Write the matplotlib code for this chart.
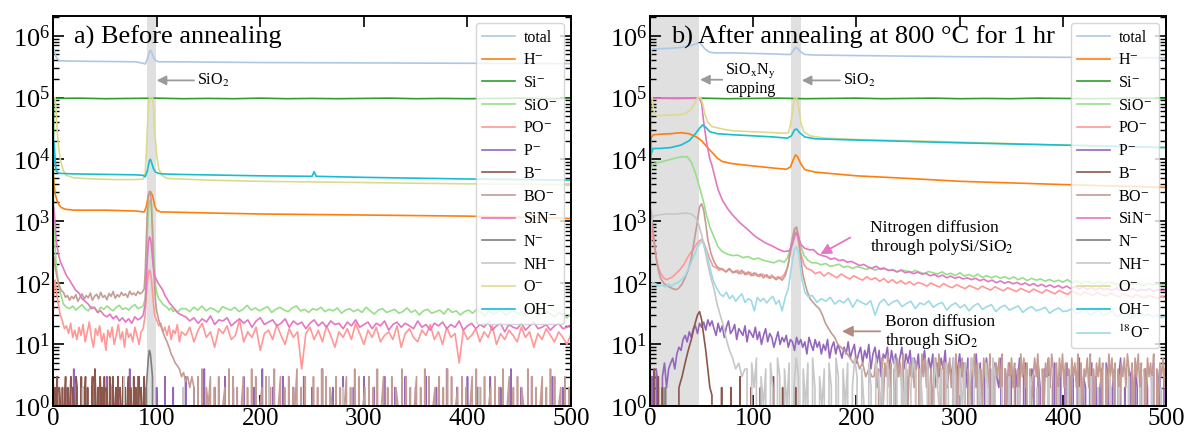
import numpy as np
import matplotlib
matplotlib.use("Agg")
import matplotlib.pyplot as plt
from matplotlib.ticker import LogLocator, NullFormatter

plt.rcParams['font.family'] = ['Liberation Serif', 'DejaVu Serif']
plt.rcParams['mathtext.fontset'] = 'stix'

# ---------------- labels / colours ----------------
LABELS = ['total', 'H$^{-}$', 'Si$^{-}$', 'SiO$^{-}$', 'PO$^{-}$', 'P$^{-}$', 'B$^{-}$',
          'BO$^{-}$', 'SiN$^{-}$', 'N$^{-}$', 'NH$^{-}$', 'O$^{-}$', 'OH$^{-}$', '$^{18}$O$^{-}$']
COLORS = ['#aec7e8', '#ff7f0e', '#2ca02c', '#98df8a', '#ff9896', '#9467bd', '#8c564b',
          '#c49c94', '#e377c2', '#7f7f7f', '#c7c7c7', '#dbdb8d', '#17becf', '#9edae5']
X_TICKS = [0, 100, 200, 300, 400, 500]

# ================= panel a (before annealing) =================
A_TOTAL = [(0, 7e5), (1, 6e5), (3, 4.5e5), (6, 3.95e5), (20, 3.9e5), (50, 3.85e5), (80, 3.8e5),
           (87, 3.6e5), (89, 3.5e5), (91, 4.2e5), (93, 5.5e5), (94, 5.8e5), (95, 5.5e5), (97, 4.5e5),
           (99, 4.0e5), (102, 3.8e5), (120, 3.8e5), (200, 3.7e5), (300, 3.65e5), (400, 3.6e5), (500, 3.55e5)]
A_SI = [(0, 1), (0.5, 9.7e4), (25, 9.8e4), (50, 9.6e4), (75, 9.7e4), (100, 9.8e4), (125, 9.6e4),
        (150, 9.7e4), (175, 9.6e4), (200, 9.8e4), (225, 9.6e4), (250, 9.7e4), (275, 9.6e4),
        (300, 9.7e4), (325, 9.8e4), (350, 9.6e4), (375, 9.7e4), (400, 9.6e4), (425, 9.7e4),
        (450, 9.8e4), (475, 9.6e4), (500, 9.7e4)]
A_O = [(0, 1e5), (1, 1e5), (2, 1e5), (3, 6e4), (4, 3e4), (5, 1.8e4), (7, 1e4), (10, 6.5e3),
       (13, 5.5e3), (20, 5.0e3), (40, 4.8e3), (60, 4.7e3), (80, 4.7e3), (87, 4.8e3), (89, 6e3),
       (90, 1.2e4), (91, 3e4), (92, 7e4), (93, 1e5), (94, 1e5), (95, 1e5), (96, 1e5), (97, 7e4),
       (98, 3e4), (100, 1.2e4), (102, 7e3), (105, 5.5e3), (110, 4.9e3), (150, 4.6e3), (200, 4.4e3),
       (300, 4.2e3), (400, 4.0e3), (500, 3.9e3)]
A_OH = [(0, 5e3), (1, 1.9e4), (2, 1e4), (3, 6.5e3), (5, 6e3), (8, 5.9e3), (20, 5.8e3), (50, 5.7e3),
        (80, 5.6e3), (87, 5.5e3), (89, 5.2e3), (91, 6.5e3), (93, 9.5e3), (94, 1e4), (95, 9e3),
        (97, 7e3), (99, 6.2e3), (102, 5.9e3), (106, 5.8e3), (120, 5.7e3), (200, 5.4e3), (250, 5.3e3),
        (252, 6.3e3), (254, 5.3e3), (300, 5.1e3), (400, 4.8e3), (500, 4.6e3)]
A_H = [(0, 6e3), (1, 4e3), (2, 2.8e3), (4, 2.1e3), (6, 1.8e3), (8, 1.65e3), (12, 1.55e3), (20, 1.5e3),
       (50, 1.5e3), (80, 1.45e3), (88, 1.4e3), (90, 1.7e3), (92, 2.6e3), (94, 3.0e3), (96, 2.6e3),
       (98, 1.8e3), (100, 1.5e3), (104, 1.4e3), (110, 1.4e3), (150, 1.35e3), (200, 1.3e3),
       (300, 1.25e3), (400, 1.2e3), (500, 1.1e3)]
A_SIO_HEAD = [(0, 1e3), (1, 800), (2, 400), (3, 200), (5, 100), (7, 70), (10, 45), (13, 40), (16, 38),
              (19, 42), (22, 36), (25, 40), (28, 44), (31, 38), (34, 35), (37, 41), (40, 39), (43, 33),
              (46, 40), (49, 37), (52, 42), (55, 38), (58, 35), (61, 40), (64, 43), (67, 37), (70, 39),
              (73, 36), (76, 41), (79, 44), (82, 38), (85, 40), (87, 42), (89, 55), (90, 150), (91, 600),
              (92, 1500), (93, 2000), (94, 2200), (95, 1800), (96, 900), (97, 350), (98, 150), (99, 90),
              (100, 70), (102, 55), (104, 50), (106, 45), (108, 42), (110, 40), (112, 36), (114, 39),
              (116, 34), (118, 37), (120, 33), (122, 36), (124, 38)]
A_SIO_TAIL = [38, 34, 40, 36, 42, 35, 39, 37, 33, 41, 38, 36, 40, 34, 37, 43, 36, 39, 35, 38, 41, 33,
              37, 40, 36, 34, 39, 42, 35, 37, 33, 38, 36, 40, 34, 37, 35, 39, 32, 36, 38, 34, 37, 33,
              40, 35, 31, 36, 38, 33, 35, 37, 32, 34, 39, 33, 36, 30, 35, 37, 32, 34, 36, 31, 38, 33,
              35, 30, 34, 36, 32, 37, 33, 29, 35, 31, 34, 36, 30, 33, 35, 31, 34, 29, 33, 36, 30, 32,
              35, 31, 28, 33, 30, 27, 31]
A_SIN_HEAD = [(0, 2000), (1, 1500), (2, 900), (3, 500), (5, 300), (7, 220), (10, 170), (13, 130),
              (16, 110), (19, 90), (22, 75), (25, 68), (28, 55), (31, 50), (34, 45), (37, 38), (40, 40),
              (43, 33), (46, 35), (49, 30), (52, 28), (55, 31), (58, 26), (61, 29), (64, 24), (67, 27),
              (70, 23), (73, 26), (76, 22), (79, 28), (82, 25), (85, 27), (87, 30), (89, 45), (90, 100),
              (91, 250), (92, 450), (93, 550), (94, 520), (95, 400), (96, 250), (97, 170), (98, 130),
              (100, 110), (102, 95), (104, 85), (106, 75), (108, 62), (110, 55), (112, 48), (115, 42),
              (118, 36), (121, 32), (124, 30)]
A_SIN_TAIL = [28, 24, 27, 22, 26, 23, 29, 21, 25, 24, 27, 20, 23, 26, 22, 25, 19, 24, 27, 21, 23, 25,
              20, 22, 26, 19, 24, 21, 23, 18, 22, 25, 20, 23, 19, 24, 21, 22, 18, 23, 20, 25, 19, 21,
              23, 18, 22, 20, 24, 17, 21, 23, 19, 22, 20, 18, 24, 19, 21, 17, 22, 20, 23, 18, 21, 19,
              24, 17, 20, 22, 18, 21, 19, 23, 17, 20, 22, 16, 21, 19, 18, 22, 17, 20, 23, 18, 19, 21,
              17, 20, 22, 18, 19, 21]
A_PO_HEAD = [(0, 30), (1, 100), (2, 110), (3, 80), (5, 45), (7, 30), (9, 24), (11, 18), (13, 20),
             (15, 15), (17, 22), (19, 13), (21, 17), (23, 12), (25, 19), (27, 14), (29, 21), (31, 11),
             (33, 16), (35, 23), (37, 13), (39, 9), (41, 18), (43, 14), (45, 20), (47, 11), (49, 15),
             (51, 8), (53, 17), (55, 13), (57, 19), (59, 10), (61, 14), (63, 21), (65, 12), (67, 16),
             (69, 9), (71, 18), (73, 13), (75, 15), (77, 11), (79, 19), (81, 14), (83, 10), (85, 16),
             (87, 18), (89, 30), (90, 60), (91, 100), (92, 140), (93, 160), (94, 150), (95, 110),
             (96, 70), (97, 45), (98, 30), (100, 25), (102, 20), (104, 22), (106, 16), (108, 19),
             (110, 14), (112, 20), (114, 12), (116, 17), (118, 15), (120, 21), (122, 11), (124, 16)]
A_PO_TAIL = [14, 19, 11, 17, 22, 13, 16, 9, 18, 15, 20, 12, 14, 25, 11, 16, 13, 19, 8, 15, 17, 12, 21,
             14, 10, 18, 13, 16, 4, 15, 19, 12, 17, 11, 20, 14, 9, 16, 13, 18, 12, 22, 15, 10, 17, 13,
             19, 11, 14, 16, 12, 20, 9, 15, 18, 13, 11, 17, 14, 21, 12, 16, 10, 19, 13, 15, 5, 17, 12,
             14, 18, 11, 16, 13, 20, 10, 15, 12, 17, 14, 11, 19, 13, 16, 9, 15, 12, 18, 14, 11, 16, 13,
             10, 15]
A_BO_HEAD = [(0, 300), (1, 250), (2, 180), (4, 120), (6, 90), (8, 75), (10, 70), (12, 58), (14, 62),
             (16, 52), (18, 60), (20, 55), (22, 64), (24, 50), (26, 58), (28, 66), (30, 54), (32, 62),
             (34, 57), (36, 68), (38, 52), (40, 60), (42, 65), (44, 55), (46, 70), (48, 58), (50, 62),
             (52, 53), (54, 67), (56, 60), (58, 72), (60, 56), (62, 64), (64, 59), (66, 70), (68, 62),
             (70, 66), (72, 58), (74, 73), (76, 64), (78, 68), (80, 62), (82, 72), (84, 66), (86, 70),
             (88, 80), (89, 150), (90, 500), (91, 1500), (92, 2600), (93, 3000), (94, 2800), (95, 1800),
             (96, 600), (97, 200), (98, 90), (99, 50), (100, 35), (102, 25), (104, 20), (106, 16),
             (108, 13), (110, 11), (112, 9), (114, 7), (116, 6), (118, 5), (120, 4.5), (122, 4),
             (124, 3), (126, 3.5), (128, 2.5), (130, 3), (132, 2), (134, 3)]
A_BO_TAIL = ("2030402130203012040302013020403012030204013020302140203010302040302103020130204030"
             "1203020401302030210403020130204030120302040301203020130402030120302040130203021040"
             "30201302040301203020")
A_B = "31203021020130201302103201030213020102304102031203021032030120302103020130210302013021030"
A_P = ("0030002000400020000300200030000200000400030002000020003000200000300020000400002000030002"
       "0000300002000400002000030000200003000200004000020000300002000030000200003000020000300002"
       "000030000200004000020000300002000003000020000400002000030000200003000020000")
A_N = [(0, 2), (1, 0), (88, 0), (90, 2), (92, 6), (93, 8), (94, 7), (96, 3), (98, 0), (500, 0)]
A_NH = ("0000000000200000000000003000000000000000000020000000000000000000000000000300000000000000"
        "0000000000200000000000000000000000000000000000000000000020000000000000000000000000000000")

# ================= panel b (after annealing) =================
B_TOTAL = [(0, 2e5), (1, 5.8e5), (3, 6.2e5), (10, 6.2e5), (20, 6.3e5), (30, 6.5e5), (40, 7e5),
           (45, 7.5e5), (48, 7.8e5), (50, 7.2e5), (53, 6.2e5), (57, 5.5e5), (62, 5.3e5), (80, 5.3e5),
           (100, 5.2e5), (120, 5.1e5), (132, 5.0e5), (136, 5.0e5), (139, 5.8e5), (141, 6.5e5),
           (143, 6.3e5), (146, 5.5e5), (150, 5.0e5), (160, 4.9e5), (200, 4.8e5), (300, 4.6e5),
           (400, 4.5e5), (500, 4.4e5)]
B_SI = [(0, 1), (0.5, 9.8e4), (25, 9.7e4), (50, 9.8e4), (75, 9.6e4), (100, 9.7e4), (125, 9.8e4),
        (150, 9.6e4), (175, 9.7e4), (200, 9.8e4), (225, 9.6e4), (250, 9.7e4), (275, 9.8e4),
        (300, 9.6e4), (325, 9.7e4), (350, 9.6e4), (375, 9.8e4), (400, 9.7e4), (425, 9.6e4),
        (450, 9.7e4), (475, 9.8e4), (500, 9.6e4)]
B_SIN_HEAD = [(0, 1e4), (0.5, 9.8e4), (48, 9.8e4), (50, 8e4), (52, 4e4), (55, 1.8e4), (58, 1.0e4),
              (60, 8e3), (63, 5e3), (66, 3.2e3), (70, 2.2e3), (75, 1.6e3), (80, 1.25e3), (87, 940),
              (95, 720), (100, 600), (105, 520), (112, 440), (119, 390), (124, 350), (130, 320),
              (135, 330), (138, 420), (141, 650), (143, 600), (146, 420), (150, 360), (155, 340),
              (158, 345), (163, 290), (167, 275)]
B_SIN_TAIL = [265, 240, 250, 228, 235, 215, 222, 205, 190, 198, 180, 172, 185, 165, 170, 158, 162,
              150, 160, 145, 152, 140, 148, 138, 142, 130, 136, 125, 133, 120, 128, 118, 124, 115,
              120, 112, 118, 108, 114, 104, 110, 100, 107, 98, 104, 96, 101, 93, 99, 90, 97, 88, 94,
              86, 92, 84, 90, 82, 88, 80, 87, 79, 85, 78, 84, 76, 83, 77, 80, 75, 82, 74, 79, 76, 81,
              73, 78, 75, 80, 72, 77, 74, 76]
B_O = [(0, 1e5), (2, 1e5), (3, 7e4), (5, 5.2e4), (10, 5.1e4), (20, 5.2e4), (30, 5.3e4), (35, 5.6e4),
       (40, 6.5e4), (43, 8e4), (46, 1e5), (49, 1e5), (51, 8e4), (53, 5.5e4), (56, 4e4), (60, 3.4e4),
       (70, 3.1e4), (80, 2.9e4), (100, 2.8e4), (120, 2.7e4), (130, 2.65e4), (134, 2.7e4),
       (136, 3.5e4), (138, 6e4), (140, 1e5), (142, 1e5), (144, 7e4), (146, 4e4), (149, 2.8e4),
       (155, 2.4e4), (170, 2.2e4), (200, 2.1e4), (250, 2e4), (300, 1.9e4), (400, 1.7e4), (500, 1.55e4)]
B_OH = [(0, 1e4), (1, 1.2e4), (3, 1.5e4), (10, 1.5e4), (20, 1.55e4), (30, 1.7e4), (38, 2e4),
        (44, 2.6e4), (48, 3.2e4), (51, 3.6e4), (54, 3.3e4), (58, 2.8e4), (65, 2.6e4), (80, 2.5e4),
        (100, 2.4e4), (120, 2.3e4), (133, 2.2e4), (137, 2.4e4), (140, 3e4), (142, 3.1e4),
        (145, 2.7e4), (150, 2.3e4), (160, 2.15e4), (200, 2.05e4), (250, 1.95e4), (300, 1.85e4),
        (400, 1.7e4), (500, 1.55e4)]
B_H = [(0, 5e3), (1, 2.2e4), (3, 2.5e4), (10, 2.55e4), (20, 2.6e4), (30, 2.7e4), (38, 2.6e4),
       (45, 2.3e4), (50, 2e4), (55, 1.6e4), (60, 1.3e4), (65, 1.05e4), (70, 9.2e3), (80, 8.5e3),
       (100, 7.8e3), (120, 7.2e3), (132, 6.9e3), (136, 7.5e3), (139, 1.0e4), (141, 1.18e4),
       (143, 1.1e4), (146, 8.5e3), (150, 6.8e3), (160, 6.2e3), (200, 5.4e3), (250, 4.9e3),
       (300, 4.4e3), (400, 3.9e3), (500, 3.5e3)]
B_SIO_HEAD = [(0, 2e3), (1, 7e3), (3, 8.5e3), (10, 9e3), (20, 1.0e4), (30, 1.1e4), (36, 1.1e4),
              (40, 9e3), (44, 6e3), (48, 3.5e3), (52, 2e3), (55, 1.2e3), (58, 800), (62, 550),
              (66, 380), (70, 320), (75, 290), (80, 275), (85, 280), (90, 255), (95, 265), (100, 240),
              (105, 250), (110, 230), (115, 220), (120, 210), (125, 230), (130, 215), (133, 250),
              (136, 350), (139, 600), (141, 750), (143, 650), (146, 400), (149, 280), (153, 230),
              (157, 210)]
B_SIO_TAIL = [210, 195, 205, 185, 190, 200, 178, 185, 170, 182, 175, 165, 172, 160, 168, 175, 158,
              163, 150, 160, 155, 145, 158, 148, 140, 152, 145, 138, 150, 135, 142, 130, 145, 128,
              136, 125, 138, 122, 130, 120, 128, 118, 125, 115, 124, 112, 120, 108, 118, 110, 115,
              106, 113, 104, 110, 102, 112, 100, 107, 98, 105, 101, 97, 104, 95, 102, 99, 94, 100,
              96, 92, 98, 95, 90, 97, 93, 95, 91, 94]
B_PO_HEAD = [(0, 300), (1, 800), (2, 650), (4, 400), (6, 250), (8, 180), (10, 145), (13, 120),
             (16, 112), (19, 118), (22, 125), (25, 140), (29, 163), (33, 200), (36, 250), (39, 300),
             (42, 350), (45, 420), (48, 480), (50, 500), (52, 450), (55, 330), (58, 240), (61, 185),
             (64, 175), (67, 160), (70, 170), (73, 150), (76, 165), (79, 155), (82, 145), (85, 160),
             (88, 140), (91, 150), (94, 135), (97, 148), (100, 130), (103, 142), (106, 125),
             (109, 138), (112, 128), (115, 120), (118, 133), (121, 118), (124, 125), (127, 120),
             (130, 135), (133, 170), (136, 300), (139, 550), (141, 650), (143, 550), (146, 300),
             (149, 200), (152, 170)]
B_PO_TAIL = [160, 140, 150, 128, 145, 132, 120, 138, 125, 115, 130, 118, 110, 125, 112, 120, 105,
             117, 100, 112, 98, 108, 95, 104, 92, 101, 96, 88, 99, 91, 85, 97, 88, 83, 93, 86, 80, 90,
             84, 78, 88, 81, 76, 86, 79, 74, 83, 77, 72, 81, 75, 70, 79, 73, 68, 77, 71, 66, 75, 69,
             65, 73, 68, 63, 71, 66, 62, 70, 64, 61, 68, 63, 59, 66, 62, 58, 64, 60, 57, 62, 59, 56,
             60, 57]
B_O18_HEAD = [(0, 60), (1, 95), (3, 100), (6, 95), (9, 88), (12, 92), (15, 85), (18, 95), (21, 88),
              (24, 96), (27, 100), (30, 110), (34, 130), (38, 180), (42, 260), (46, 380), (49, 450),
              (51, 460), (53, 380), (56, 250), (59, 150), (62, 100), (65, 80), (68, 65), (71, 60),
              (74, 70), (77, 55), (80, 62), (83, 50), (86, 58), (89, 66), (92, 48), (95, 55), (98, 52),
              (101, 35), (104, 58), (107, 50), (110, 56), (113, 47), (116, 54), (119, 60), (122, 45),
              (125, 52), (128, 35), (131, 58), (134, 80), (137, 180), (140, 350), (142, 380),
              (144, 300), (147, 120), (150, 70), (153, 60)]
B_O18_TAIL = [62, 48, 55, 50, 58, 45, 52, 47, 56, 40, 53, 48, 44, 51, 30, 47, 54, 43, 49, 52, 41, 46,
              50, 38, 47, 44, 51, 40, 45, 48, 36, 43, 47, 39, 44, 35, 42, 46, 37, 41, 44, 34, 40, 43,
              36, 39, 42, 33, 38, 41, 35, 37, 40, 32, 36, 39, 34, 35, 38, 31, 34, 37, 30, 33, 36, 29,
              32, 35, 28, 31, 34, 27, 30, 33, 29, 31, 28, 30, 27, 29]
B_BO_HEAD = [(0, 200), (1, 1500), (2, 1000), (4, 500), (6, 250), (8, 160), (10, 120), (13, 100),
             (16, 90), (19, 85), (22, 80), (25, 77), (28, 82), (31, 95), (34, 120), (37, 160),
             (40, 250), (43, 500), (46, 1000), (48, 1700), (50, 1900), (52, 1500), (54, 900),
             (56, 500), (59, 300), (62, 220), (65, 180), (68, 170), (71, 160), (74, 150), (77, 170),
             (80, 145), (83, 155), (86, 140), (89, 160), (92, 135), (95, 150), (98, 130), (101, 145),
             (104, 128), (107, 138), (110, 120), (113, 135), (116, 118), (119, 125), (122, 112),
             (125, 120), (128, 110), (131, 130), (134, 200), (137, 450), (140, 750), (142, 800),
             (144, 550), (146, 250), (148, 140), (150, 100), (152, 75), (155, 55), (158, 48),
             (161, 42), (164, 38), (167, 30), (170, 22), (173, 18), (176, 15), (179, 13), (182, 10),
             (185, 9), (188, 8), (191, 7), (194, 6), (197, 5), (200, 6), (203, 4), (206, 5), (209, 3),
             (212, 4), (215, 3)]
B_BO_TAIL = ("3524061537250416352704153625041736250413627405153624071536250416372504163527041536"
             "2704153625041736250413637204153627405163725041635270514362704153625041736250415362"
             "74051637250416352704153627")
B_P = ("0 3 0 4 2 0 3 5 2 4 5 "
       "6 4 7 9 8 12 14 11 16 13 18 20 15 22 19 23 17 25 20 24 "
       "18 14 22 16 20 13 19 24 15 17 21 12 18 16 14 20 11 17 15 13 19 12 16 10 14 18 11 15 13 9 12 16 10 13 11 "
       "14 9 12 11 8 13 10 12 9 11 7 13 10 8 12 9 11 7 10 8 12 6 9 11 7 10 8 6 9 7 11 6 8 10 5 "
       "7 9 5 8 6 10 4 7 9 5 8 3 7 6 9 4 8 5 7 3 6 9 4 7 5 8 3 6 4 7 2 5 8 3 6 4 7 2 5 3 6 4 8 2 5 3 6 0 4 7 "
       "3 5 2 6 0 4 3 7 2 5 0 3 6 2 4 0 5 3 2 6 0 4 2 5 3 0 4 2 6 0 3 5 0 2 4 3 0 5 2 0 4 3 6 0 2 5 0 3 4 0 "
       "2 5 0 3 4 0 2 6 0 3 2 0 4 5 0 3 0 2 4 0 5 3 0 2 4 0 3 6 0 2 0 4 3 0 5 2 0 3 0 4 2 0 3 5 0 2 4 0 3 2")
B_B_HEAD = [(0, 3), (2, 0), (4, 4), (6, 0), (8, 3), (10, 0), (12, 2), (14, 0), (25, 0), (28, 2),
            (31, 3), (34, 5), (37, 8), (40, 12), (43, 20), (46, 30), (48, 34), (50, 25), (52, 14),
            (54, 8), (56, 4), (58, 2), (60, 1.5), (62, 0)]
B_B_TAIL = "0002000020000300000200002000000300002000000200000"
B_NH_HEAD = [(0, 100), (1, 900), (3, 1200), (8, 1250), (15, 1300), (25, 1300), (35, 1350), (40, 1300),
             (44, 1150), (47, 900), (50, 600), (53, 350), (56, 200), (59, 120), (62, 80), (65, 45),
             (68, 30), (71, 20), (74, 12), (77, 8), (80, 6), (83, 4), (86, 5), (89, 3), (92, 4)]
B_NH_TAIL = ("4052603140520630415026304150620314052063041502630410520631405206304150263041052063"
             "1405206304150263041052063002003000200003002000030002000300002000030020000300020003"
             "0000200003000200")
B_N = "00200000000000000000000000000000000000000000000000000000000000000000"


# ---------------- helpers ----------------
def pts(p):
    a = np.array(p, dtype=float)
    return a[:, 0], a[:, 1]


def head_tail(head, tail, x1=500):
    hx, hy = pts(head)
    tail = np.array(tail, dtype=float)
    tx = np.linspace(hx[-1], x1, len(tail) + 1)[1:]
    return np.concatenate([hx, tx]), np.concatenate([hy, tail])


def digit_series(s, x0, x1):
    v = np.array([float(c) for c in s])
    return np.linspace(x0, x1, len(v)), v


def int_series(s, x0, x1):
    v = np.array([float(c) for c in s.split()])
    return np.linspace(x0, x1, len(v)), v


def zeros(x0, x1):
    return np.array([x0, x1]), np.array([0.0, 0.0])


def cat(*parts):
    return (np.concatenate([p[0] for p in parts]), np.concatenate([p[1] for p in parts]))


series_a = [
    pts(A_TOTAL), pts(A_H), pts(A_SI), head_tail(A_SIO_HEAD, A_SIO_TAIL),
    head_tail(A_PO_HEAD, A_PO_TAIL), digit_series(A_P, 0, 500),
    cat(digit_series(A_B, 0, 89), zeros(90, 500)),
    cat(pts(A_BO_HEAD), digit_series(A_BO_TAIL, 136, 500)),
    head_tail(A_SIN_HEAD, A_SIN_TAIL), pts(A_N), digit_series(A_NH, 0, 500),
    pts(A_O), pts(A_OH),
]
series_b = [
    pts(B_TOTAL), pts(B_H), pts(B_SI), head_tail(B_SIO_HEAD, B_SIO_TAIL),
    head_tail(B_PO_HEAD, B_PO_TAIL), int_series(B_P, 0, 500),
    cat(pts(B_B_HEAD), digit_series(B_B_TAIL, 64, 150), zeros(151, 500)),
    cat(pts(B_BO_HEAD), digit_series(B_BO_TAIL, 217, 500)),
    head_tail(B_SIN_HEAD, B_SIN_TAIL), digit_series(B_N, 0, 500),
    cat(pts(B_NH_HEAD), digit_series(B_NH_TAIL, 94, 500)),
    pts(B_O), pts(B_OH), head_tail(B_O18_HEAD, B_O18_TAIL),
]

fig = plt.figure(figsize=(11.89, 4.40), dpi=100)
ax_a = fig.add_axes([0.0446, 0.077, 0.4357, 0.8866])
ax_b = fig.add_axes([0.5467, 0.077, 0.4340, 0.8866])


def style(ax, bands):
    for (x0, x1) in bands:
        ax.axvspan(x0, x1, color='#e0e0e0', lw=0, zorder=0)
    ax.set_yscale('log', nonpositive='clip')
    ax.set_ylim(1, 2.1e6)
    ax.set_xlim(0, 500)
    ax.set_xticks(X_TICKS)
    ax.xaxis.set_minor_locator(plt.NullLocator())
    ax.yaxis.set_major_locator(LogLocator(base=10, numticks=20))
    ax.yaxis.set_minor_locator(LogLocator(base=10, subs=np.arange(2, 10), numticks=20))
    ax.yaxis.set_minor_formatter(NullFormatter())
    ax.tick_params(which='both', direction='in', top=True, right=True)
    ax.tick_params(axis='y', labelsize=19, pad=2)
    ax.tick_params(axis='x', labelsize=18, pad=1)
    ax.tick_params(which='major', length=8, width=1.2)
    ax.tick_params(which='minor', length=4, width=1.0)
    for sp in ax.spines.values():
        sp.set_linewidth(1.4)


def draw(ax, series, n):
    for i in range(n):
        x, y = series[i]
        ax.plot(x, y, color=COLORS[i], lw=1.2, label=LABELS[i])
    ax.legend(loc='upper right', fontsize=11.5, labelspacing=0.42, handlelength=2.1,
              handletextpad=0.5, borderaxespad=0.45, borderpad=0.4, framealpha=0.8)


style(ax_a, [(90.5, 99)])
draw(ax_a, series_a, 13)
style(ax_b, [(0, 47.5), (136.6, 146.3)])
draw(ax_b, series_b, 14)

ax_a.text(0.04, 0.945, 'a) Before annealing', transform=ax_a.transAxes, fontsize=19, va='center')
ax_b.text(0.04, 0.945, 'b) After annealing at 800 °C for 1 hr', transform=ax_b.transAxes,
          fontsize=19, va='center')

gray_arrow = dict(arrowstyle='-|>', color='#9a9a9a', lw=1.3, mutation_scale=14, shrinkA=0, shrinkB=0)
ax_a.annotate('', xy=(100, 1.9e5), xytext=(136, 1.9e5), arrowprops=gray_arrow)
ax_a.text(139, 1.9e5, 'SiO$_2$', fontsize=11.5, va='center', ha='left')

ax_b.annotate('', xy=(48.5, 1.95e5), xytext=(70, 1.95e5), arrowprops=gray_arrow)
ax_b.text(97, 1.95e5, 'SiO$_{\\mathrm{x}}$N$_{\\mathrm{y}}$\ncapping', fontsize=11.5, va='center',
          ha='center', linespacing=1.0)
ax_b.annotate('', xy=(147, 1.9e5), xytext=(184, 1.9e5), arrowprops=gray_arrow)
ax_b.text(187, 1.9e5, 'SiO$_2$', fontsize=11.5, va='center', ha='left')

ax_b.annotate('', xy=(165, 290), xytext=(194, 540),
              arrowprops=dict(arrowstyle='-|>', color='#e377c2', lw=1.3, mutation_scale=16,
                              shrinkA=0, shrinkB=0))
ax_b.text(213, 520, 'Nitrogen diffusion\nthrough polySi/SiO$_2$', fontsize=12.5, va='center',
          ha='left', linespacing=1.05)
ax_b.annotate('', xy=(186, 16.3), xytext=(223, 16.3),
              arrowprops=dict(arrowstyle='-|>', color='#b38a80', lw=1.3, mutation_scale=16,
                              shrinkA=0, shrinkB=0))
ax_b.text(228, 15.7, 'Boron diffusion\nthrough SiO$_2$', fontsize=12.5, va='center', ha='left',
          linespacing=1.05)

fig.savefig('out.png', dpi=100)
